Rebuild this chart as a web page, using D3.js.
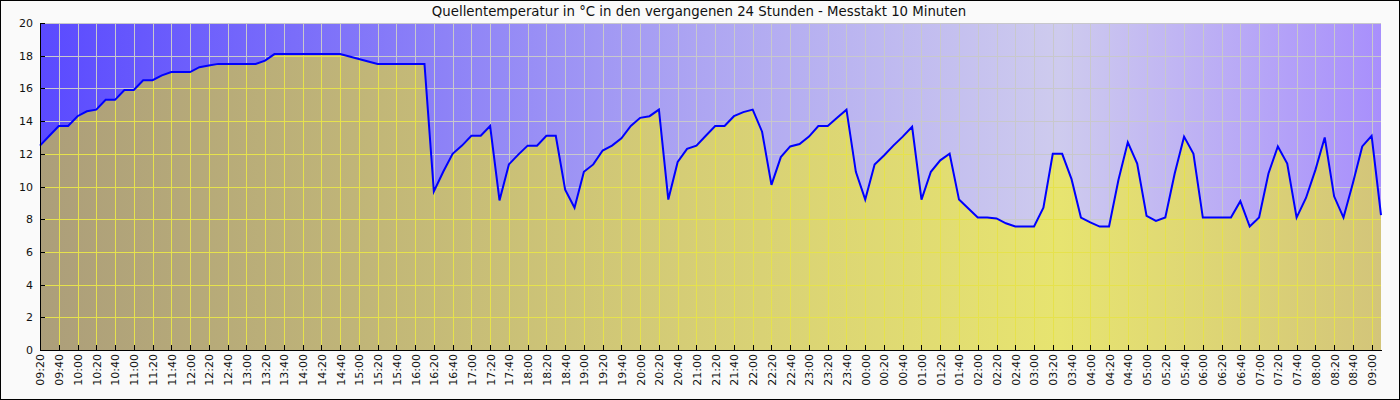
<!DOCTYPE html>
<html><head><meta charset="utf-8">
<script src="https://cdn.jsdelivr.net/npm/d3@7/dist/d3.min.js"></script>
<style>body{margin:0;background:#fff}svg{display:block}</style>
</head><body><svg id="c" width="1400" height="400"></svg>
<script>
const chartTitle = "Quellentemperatur in °C in den vergangenen 24 Stunden - Messtakt 10 Minuten";
const times = [
"09:20","09:30","09:40","09:50",
"10:00","10:10","10:20","10:30","10:40","10:50",
"11:00","11:10","11:20","11:30","11:40","11:50",
"12:00","12:10","12:20","12:30","12:40","12:50",
"13:00","13:10","13:20","13:30","13:40","13:50",
"14:00","14:10","14:20","14:30","14:40","14:50",
"15:00","15:10","15:20","15:30","15:40","15:50",
"16:00","16:10","16:20","16:30","16:40","16:50",
"17:00","17:10","17:20","17:30","17:40","17:50",
"18:00","18:10","18:20","18:30","18:40","18:50",
"19:00","19:10","19:20","19:30","19:40","19:50",
"20:00","20:10","20:20","20:30","20:40","20:50",
"21:00","21:10","21:20","21:30","21:40","21:50",
"22:00","22:10","22:20","22:30","22:40","22:50",
"23:00","23:10","23:20","23:30","23:40","23:50",
"00:00","00:10","00:20","00:30","00:40","00:50",
"01:00","01:10","01:20","01:30","01:40","01:50",
"02:00","02:10","02:20","02:30","02:40","02:50",
"03:00","03:10","03:20","03:30","03:40","03:50",
"04:00","04:10","04:20","04:30","04:40","04:50",
"05:00","05:10","05:20","05:30","05:40","05:50",
"06:00","06:10","06:20","06:30","06:40","06:50",
"07:00","07:10","07:20","07:30","07:40","07:50",
"08:00","08:10","08:20","08:30","08:40","08:50",
"09:00","09:10"
];
const temperatures = [
12.5, 13.1, 13.7, 13.7, 14.3, 14.6, 14.7, 15.3, 15.3, 15.9,
15.9, 16.5, 16.5, 16.8, 17.0, 17.0, 17.0, 17.3, 17.4, 17.5,
17.5, 17.5, 17.5, 17.5, 17.7, 18.1, 18.1, 18.1, 18.1, 18.1,
18.1, 18.1, 18.1, 17.95, 17.8, 17.65, 17.5, 17.5, 17.5, 17.5,
17.5, 17.5, 9.7, 10.9, 12.0, 12.5, 13.1, 13.1, 13.7, 9.15,
11.35, 11.95, 12.5, 12.5, 13.1, 13.1, 9.8, 8.7, 10.9, 11.35,
12.2, 12.5, 12.95, 13.7, 14.2, 14.3, 14.7, 9.2, 11.5, 12.3,
12.5, 13.1, 13.7, 13.7, 14.3, 14.55, 14.7, 13.35, 10.1, 11.8,
12.45, 12.6, 13.05, 13.7, 13.7, 14.2, 14.7, 10.9, 9.2, 11.35,
11.9, 12.5, 13.05, 13.65, 9.2, 10.9, 11.6, 12.0, 9.2, 8.65,
8.1, 8.1, 8.05, 7.75, 7.55, 7.55, 7.55, 8.7, 12.0, 12.0,
10.45, 8.1, 7.8, 7.55, 7.55, 10.4, 12.7, 11.4, 8.2, 7.9,
8.1, 10.8, 13.05, 12.0, 8.1, 8.1, 8.1, 8.1, 9.1, 7.55,
8.1, 10.8, 12.45, 11.4, 8.1, 9.3, 11.0, 13.0, 9.4, 8.1,
10.2, 12.45, 13.1, 8.25
];
const yTicks = [0, 2, 4, 6, 8, 10, 12, 14, 16, 18, 20];
const xTickLabels = times.filter((d, i) => i % 2 === 0);

const W = 1400, H = 400;
const L = 40, R = 1381, T = 23, B = 350;
const svg = d3.select("#c");
const font = "'DejaVu Sans', Verdana, sans-serif";

svg.append("rect").attr("x", 0.5).attr("y", 0.5).attr("width", W - 1).attr("height", H - 1)
  .attr("fill", "#fafafa").attr("stroke", "#000");

const x = d3.scalePoint().domain(times).range([L, R]);
const y = d3.scaleLinear().domain([0, 20]).range([B, T]);

const defs = svg.append("defs");
function grad(id, stops) {
  const g = defs.append("linearGradient").attr("id", id).attr("gradientUnits", "userSpaceOnUse")
    .attr("x1", L).attr("x2", R).attr("y1", 0).attr("y2", 0);
  stops.forEach(s => g.append("stop").attr("offset", s[0]).attr("stop-color", s[1]));
}
grad("bgGrad", [[0, "#5a4aff"], [0.49, "#ada5f2"], [0.76, "#cecbee"], [1, "#a88ffc"]]);
grad("fillGrad", [[0, "#ac9e7a"], [0.49, "#d6ce76"], [0.76, "#e7e470"], [1, "#d3c57a"]]);

const data = times.map((t, i) => ({t, v: temperatures[i]}));
const area = d3.area().x(d => x(d.t)).y0(y(0)).y1(d => y(d.v));
const line = d3.line().x(d => x(d.t)).y(d => y(d.v));

defs.append("clipPath").attr("id", "areaClip").append("path").attr("d", area(data));

svg.append("text").attr("x", 699).attr("y", 16).attr("text-anchor", "middle")
  .attr("font-family", font).attr("font-size", 13.3).attr("fill", "#111").text(chartTitle);

svg.append("rect").attr("x", L).attr("y", T).attr("width", R - L).attr("height", B - T)
  .attr("fill", "url(#bgGrad)");

function grid(g, color) {
  g.selectAll("line.h").data(yTicks.filter(v => v > 0)).join("line").attr("class", "h")
    .attr("x1", L).attr("x2", R).attr("y1", d => Math.round(y(d)) + 0.5).attr("y2", d => Math.round(y(d)) + 0.5)
    .attr("stroke", color).attr("stroke-width", 1).attr("shape-rendering", "crispEdges");
  g.selectAll("line.v").data(xTickLabels.slice(1)).join("line").attr("class", "v")
    .attr("x1", d => Math.round(x(d)) + 0.5).attr("x2", d => Math.round(x(d)) + 0.5).attr("y1", T).attr("y2", B)
    .attr("stroke", color).attr("stroke-width", 1).attr("shape-rendering", "crispEdges");
}
grid(svg.append("g"), "#c8c8cc");

svg.append("path").attr("d", area(data)).attr("fill", "url(#fillGrad)");
grid(svg.append("g").attr("clip-path", "url(#areaClip)"), "#e6e24c");

svg.append("path").attr("d", line(data)).attr("fill", "none").attr("stroke", "#0000ff")
  .attr("stroke-width", 2).attr("stroke-linejoin", "miter");

const xAxis = svg.append("g").attr("transform", `translate(0,${B})`)
  .call(d3.axisBottom(x).tickValues(xTickLabels).tickSizeInner(-5).tickSizeOuter(0));
xAxis.selectAll("text").attr("transform", "rotate(-90)").attr("x", -4).attr("y", 0)
  .attr("dy", "0.36em").style("text-anchor", "end");
const yAxis = svg.append("g").attr("transform", `translate(${L},0)`)
  .call(d3.axisLeft(y).tickValues(yTicks).tickSizeInner(-5).tickSizeOuter(0).tickPadding(7));
[xAxis, yAxis].forEach(a => {
  a.attr("font-family", font).attr("font-size", 11);
  a.selectAll("text").attr("fill", "#111");
  a.selectAll("line").attr("stroke", "#000").attr("shape-rendering", "crispEdges");
  a.select(".domain").attr("stroke", "#000").attr("shape-rendering", "crispEdges");
});
</script></body></html>
